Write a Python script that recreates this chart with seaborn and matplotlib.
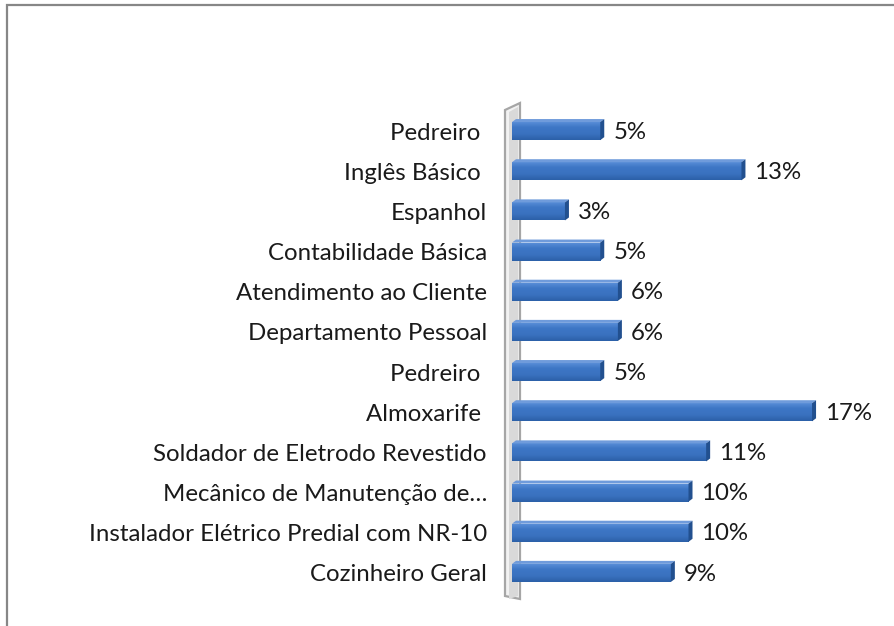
import matplotlib
matplotlib.use("Agg")
import matplotlib.pyplot as plt
import seaborn as sns
import numpy as np
import pandas as pd
from matplotlib.patches import Polygon, Rectangle
from matplotlib.colors import LinearSegmentedColormap

categories = ["Pedreiro ", "Inglês Básico ", "Espanhol", "Contabilidade Básica",
              "Atendimento ao Cliente", "Departamento Pessoal", "Pedreiro ",
              "Almoxarife ", "Soldador de Eletrodo Revestido",
              "Mecânico de Manutenção de…", "Instalador Elétrico Predial com NR-10",
              "Cozinheiro Geral"]
values = [0.05, 0.13, 0.03, 0.05, 0.06, 0.06, 0.05, 0.17, 0.11, 0.10, 0.10, 0.09]
value_labels = ["5%", "13%", "3%", "5%", "6%", "6%", "5%", "17%", "11%", "10%", "10%", "9%"]

sns.set_theme(style="white")
plt.rcParams['font.family'] = ['Lato', 'DejaVu Sans']

W, H = 895, 626
fig = plt.figure(figsize=(W / 100, H / 100), dpi=100)
fig.patch.set_facecolor("white")

# auto-fit font size so the longest label has the reference width
probe = fig.text(0, 0, "Instalador Elétrico Predial com NR-10", fontsize=10)
fig.canvas.draw()
wpx = probe.get_window_extent().width
probe.remove()
FS = 10 * 396 / wpx

ax_left = 512 / W
ax_right = (512 + 20 * 17.65) / W
ax_top = 1 - 111 / H
ax_bottom = 1 - 593 / H
ax = fig.add_axes([ax_left, ax_bottom, ax_right - ax_left, ax_top - ax_bottom])

df = pd.DataFrame({"id": [str(i) for i in range(len(values))], "value": values})
sns.barplot(data=df, x="value", y="id", orient="h", color="#3B73C1",
            width=0.45, ax=ax, saturation=1, edgecolor="none")
ax.set_xlim(0, 0.20)
ax.set_ylim(len(values) - 0.5, -0.5)
ax.set_yticks(range(len(values)))
ax.set_yticklabels(categories, fontsize=FS, color="#1a1a1a")
ax.set_xticks([])
ax.set_xlabel("")
ax.set_ylabel("")
ax.tick_params(axis="y", length=0, pad=18)
for s in ax.spines.values():
    s.set_visible(False)
ax.set_facecolor("none")

# 3D wall on the left (drawn in pixel-offset coords relative to axes)
from matplotlib.transforms import blended_transform_factory, ScaledTranslation
px = 1 / 100
wall_tr = ax.transAxes
def off(x_px):
    return x_px / (ax_right - ax_left) / W
y_top = 1.0 + 3 / (482)
wall = Polygon([(off(-7), 1 + 1 / 482), (off(8), 1 + 8 / 482),
                (off(8), -6 / 482 + 0.0), (off(-7), -3 / 482 - 0.0)],
               closed=True, transform=ax.transAxes, facecolor="#f2f2f2",
               edgecolor="#a6a6a6", lw=1.6, clip_on=False, zorder=0.5)
wall.set_xy([(off(-7), 1 + 1 / 482), (off(8), 1 + 8 / 482),
             (off(8), -6 / 482), (off(-7), -3 / 482)])
ax.add_patch(wall)
inner = Polygon([(off(-3), 1 - 1 / 482), (off(6), 1 + 4 / 482),
                 (off(6), -3 / 482), (off(-3), -6 / 482)],
                closed=True, transform=ax.transAxes, facecolor="#d9d9d9",
                edgecolor="none", clip_on=False, zorder=0.6)
ax.add_patch(inner)

# gradient + 3D faces on each bar
cmap = LinearSegmentedColormap.from_list("barg", ["#5C91DA", "#3D76C5", "#3A72C0", "#2C60A8"])
grad = np.linspace(0, 1, 64).reshape(-1, 1)
dx = 4 / 17.65 / 100   # depth in data units (x)
dy = 3 / 40.2           # depth in data units (y)
for p, lab in zip(ax.patches, value_labels):
    x0, y0 = p.get_x(), p.get_y()
    w, h = p.get_width(), p.get_height()
    im = ax.imshow(grad, cmap=cmap, aspect="auto",
                   extent=[x0, x0 + w, y0 + h, y0], zorder=2, interpolation="bilinear")
    im.set_clip_path(p)
    top = Polygon([(x0, y0), (x0 + dx, y0 - dy), (x0 + w + dx, y0 - dy), (x0 + w, y0)],
                  closed=True, facecolor="#6F9BDB", edgecolor="none", zorder=2.5)
    side = Polygon([(x0 + w, y0), (x0 + w + dx, y0 - dy), (x0 + w + dx, y0 + h - dy), (x0 + w, y0 + h)],
                   closed=True, facecolor="#22508F", edgecolor="none", zorder=2.5)
    ax.add_patch(top)
    ax.add_patch(side)
    ax.text(x0 + w + 13 / 17.65 / 100 * 1.0 + 0.0, y0 + h / 2 + 0.03, lab,
            va="center", ha="left", fontsize=FS, color="#1a1a1a")

# figure border
fig.add_artist(Rectangle((7.5 / W, -0.2), 1.2, (H - 4.5) / H + 0.2, transform=fig.transFigure,
                         fill=False, edgecolor="#878787", lw=1.6))

fig.savefig("out.png", dpi=100, facecolor="white")
